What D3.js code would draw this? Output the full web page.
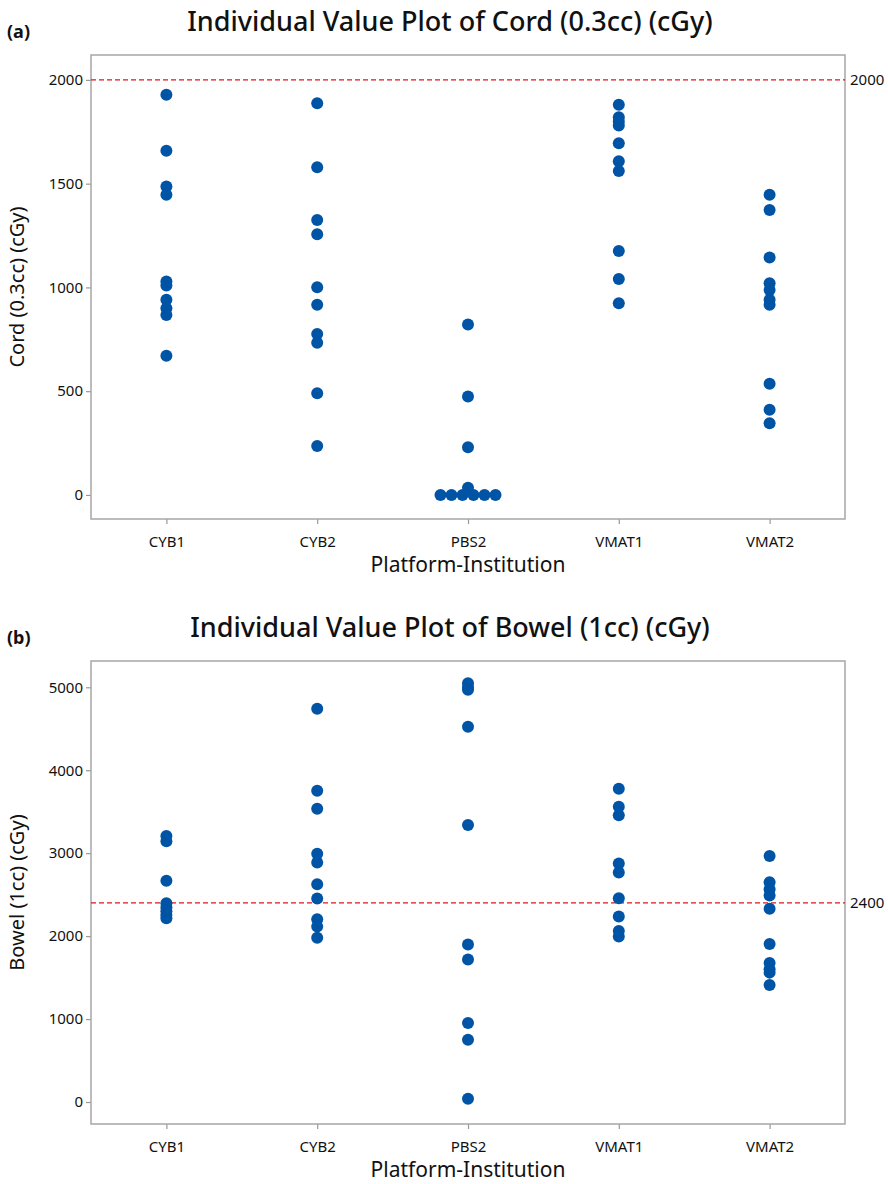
<!DOCTYPE html>
<html>
<head>
<meta charset="utf-8">
<script src="https://cdn.jsdelivr.net/npm/d3@7"></script>
<style>
  body { margin: 0; background: #fff; }
  text { font-family: "Noto Sans", "Open Sans", sans-serif; fill: #111; }
</style>
</head>
<body>
<div class="canva"></div>
<script>
// categories on the x axis (same for both panels)
const categories = ['CYB1', 'CYB2', 'PBS2', 'VMAT1', 'VMAT2'];

// panel (a): Cord (0.3cc), one array per category
const cordValues = [
  [1928, 1659, 1486, 1446, 1028, 1009, 940, 900, 867, 671],
  [1888, 1579, 1325, 1256, 1001, 916, 776, 733, 490, 236],
  [821, 474, 230, 35, 0, 0, 0, 0, 0, 0],
  [1880, 1820, 1800, 1780, 1695, 1608, 1561, 1176, 1041, 924],
  [1446, 1373, 1144, 1020, 988, 940, 916, 536, 410, 345]
];
const cordTicks = [0, 500, 1000, 1500, 2000];
const cordLimit = 2000;

// panel (b): Bowel (1cc)
const bowelValues = [
  [3208, 3145, 2668, 2395, 2345, 2300, 2255, 2215],
  [4742, 3754, 3537, 2992, 2887, 2626, 2453, 2205, 2116, 1980],
  [5050, 5000, 4970, 4525, 3341, 1899, 1718, 952, 750, 40],
  [3778, 3561, 3458, 2875, 2766, 2458, 2236, 2063, 1995],
  [2967, 2650, 2566, 2490, 2330, 1905, 1675, 1600, 1560, 1410]
];
const bowelTicks = [0, 1000, 2000, 3000, 4000, 5000];
const bowelLimit = 2400;

const svg = d3.select('.canva').append('svg')
    .attr('width', 888)
    .attr('height', 1184);

function drawPanel(opt) {
  const x = d3.scalePoint().domain(categories)
      .range([opt.left, opt.right]).padding(0.5);
  const y = d3.scaleLinear().domain(opt.domain)
      .range([opt.bottom, opt.top]);

  const g = svg.append('g');

  // title + panel letter
  g.append('text')
      .text(opt.title)
      .attr('x', 450)
      .attr('y', opt.top - 24)
      .attr('text-anchor', 'middle')
      .attr('font-size', 27)
      .attr('font-weight', 500);
  g.append('text')
      .text(opt.letter)
      .attr('x', 7)
      .attr('y', opt.top - 17)
      .attr('font-size', 18)
      .attr('font-weight', 'bold');

  // axes
  const yAxis = g.append('g')
      .attr('transform', `translate(${opt.left},0)`)
      .call(d3.axisLeft(y).tickValues(opt.ticks).tickFormat(d3.format('d'))
        .tickSize(5).tickSizeOuter(0));
  const xAxis = g.append('g')
      .attr('transform', `translate(0,${opt.bottom})`)
      .call(d3.axisBottom(x).tickSize(5).tickSizeOuter(0));
  [yAxis, xAxis].forEach(a => {
    a.select('.domain').remove();
    a.selectAll('line').attr('stroke', '#999').attr('stroke-width', 1.2);
    a.selectAll('text').attr('font-size', 15).attr('fill', '#111');
  });
  yAxis.selectAll('text').attr('x', -8);
  xAxis.selectAll('text').attr('dy', '1.3em');

  // frame
  g.append('rect')
      .attr('x', opt.left)
      .attr('y', opt.top)
      .attr('width', opt.right - opt.left)
      .attr('height', opt.bottom - opt.top)
      .attr('fill', 'none')
      .attr('stroke', '#a6a6a6')
      .attr('stroke-width', 1.5);

  // axis titles
  g.append('text')
      .text('Platform-Institution')
      .attr('x', (opt.left + opt.right) / 2)
      .attr('y', opt.bottom + 53)
      .attr('text-anchor', 'middle')
      .attr('font-size', 21);
  g.append('text')
      .text(opt.yLabel)
      .attr('transform', `translate(24,${(opt.top + opt.bottom) / 2}) rotate(-90)`)
      .attr('text-anchor', 'middle')
      .attr('font-size', 20);

  // reference line
  g.append('line')
      .attr('x1', opt.left)
      .attr('x2', opt.right)
      .attr('y1', y(opt.limit))
      .attr('y2', y(opt.limit))
      .attr('stroke', '#e0141e')
      .attr('stroke-width', 1.3)
      .attr('stroke-dasharray', '5,3');
  g.append('text')
      .text(opt.limit)
      .attr('x', opt.right + 5)
      .attr('y', y(opt.limit))
      .attr('dy', '0.35em')
      .attr('font-size', 15)
      .attr('fill', '#a00000');

  // points: identical values are spread side by side
  const pts = [];
  opt.values.forEach((vals, i) => {
    const counts = d3.rollup(vals, v => v.length, d => d);
    const seen = new Map();
    vals.forEach(v => {
      const n = counts.get(v);
      const k = seen.get(v) || 0;
      seen.set(v, k + 1);
      pts.push({ cat: categories[i], v: v, off: (k - (n - 1) / 2) * 11 });
    });
  });
  g.selectAll('circle')
      .data(pts)
      .join('circle')
      .attr('cx', d => x(d.cat) + d.off)
      .attr('cy', d => y(d.v))
      .attr('r', 6)
      .attr('fill', '#0054a6');
}

drawPanel({
  title: 'Individual Value Plot of Cord (0.3cc) (cGy)',
  letter: '(a)',
  yLabel: 'Cord (0.3cc) (cGy)',
  values: cordValues,
  ticks: cordTicks,
  limit: cordLimit,
  domain: [-116, 2120],
  left: 91, right: 845, top: 55, bottom: 519
});

drawPanel({
  title: 'Individual Value Plot of Bowel (1cc) (cGy)',
  letter: '(b)',
  yLabel: 'Bowel (1cc) (cGy)',
  values: bowelValues,
  ticks: bowelTicks,
  limit: bowelLimit,
  domain: [-265, 5317],
  left: 91, right: 845, top: 661, bottom: 1124
});
</script>
</body>
</html>
